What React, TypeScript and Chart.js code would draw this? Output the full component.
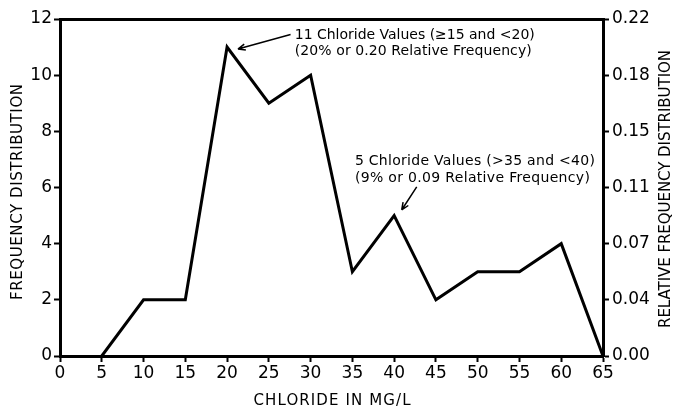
import React, { useEffect, useRef } from "react";
import { Chart, registerables } from "chart.js";

Chart.register(...registerables);

// ---- data ----
const chloride = [5, 10, 15, 20, 25, 30, 35, 40, 45, 50, 55, 60, 65];
const frequency = [0, 2, 2, 11, 9, 10, 3, 5, 2, 3, 3, 4, 0];
const rightTickLabels = ["0.00", "0.04", "0.07", "0.11", "0.15", "0.18", "0.22"];
const xTitle = "CHLORIDE IN MG/L";
const yLeftTitle = "FREQUENCY DISTRIBUTION";
const yRightTitle = "RELATIVE FREQUENCY DISTRIBUTION";
const note1Lines = ["11 Chloride Values (\u226515 and <20)", "(20% or 0.20 Relative Frequency)"];
const note2Lines = ["5 Chloride Values (>35 and <40)", "(9% or 0.09 Relative Frequency)"];

// annotation placement (data units)
const note1Pos = { x: 28.1, y1: 11.4, y2: 10.85, arrowFrom: [27.6, 11.45], arrowTo: [21.3, 10.93] };
const note2Pos = { x: 35.3, y1: 6.94, y2: 6.34, arrowFrom: [42.7, 6.02], arrowTo: [40.9, 5.2] };

const FONT = "'DejaVu Sans', sans-serif";

function fitText(ctx: CanvasRenderingContext2D, text: string, x: number, y: number, width: number) {
  (ctx as any).letterSpacing = "0px";
  const w = ctx.measureText(text).width;
  const ls = (width - w) / Math.max(1, text.length - 1);
  (ctx as any).letterSpacing = ls + "px";
  ctx.textAlign = "left";
  ctx.textBaseline = "middle";
  ctx.fillText(text, x, y);
  (ctx as any).letterSpacing = "0px";
}

function arrow(ctx: CanvasRenderingContext2D, x1: number, y1: number, x2: number, y2: number) {
  ctx.beginPath();
  ctx.moveTo(x1, y1);
  ctx.lineTo(x2, y2);
  const a = Math.atan2(y2 - y1, x2 - x1);
  const L = 8;
  ctx.moveTo(x2, y2);
  ctx.lineTo(x2 - L * Math.cos(a - 0.4), y2 - L * Math.sin(a - 0.4));
  ctx.moveTo(x2, y2);
  ctx.lineTo(x2 - L * Math.cos(a + 0.4), y2 - L * Math.sin(a + 0.4));
  ctx.stroke();
}

const textPlugin = {
  id: "texts",
  afterDraw(chart: any) {
    const ctx: CanvasRenderingContext2D = chart.ctx;
    const xs = chart.scales.x;
    const ys = chart.scales.y;
    const ca = chart.chartArea;
    ctx.save();
    ctx.fillStyle = "#000";
    ctx.strokeStyle = "#000";
    ctx.lineWidth = 1.5;

    // axis titles
    ctx.font = `15px ${FONT}`;
    const cx = (ca.left + ca.right) / 2;
    fitText(ctx, xTitle, cx - 78, 401, 157);

    ctx.save();
    ctx.translate(18, 192);
    ctx.rotate(-Math.PI / 2);
    fitText(ctx, yLeftTitle, -108, 0, 216);
    ctx.restore();

    ctx.save();
    ctx.translate(666, 189);
    ctx.rotate(-Math.PI / 2);
    fitText(ctx, yRightTitle, -139, 0, 278);
    ctx.restore();

    // annotations
    ctx.font = `14px ${FONT}`;
    const notes = [
      { lines: note1Lines, pos: note1Pos, widths: [240, 237] },
      { lines: note2Lines, pos: note2Pos, widths: [240, 235] },
    ];
    for (const n of notes) {
      const px = xs.getPixelForValue(n.pos.x);
      fitText(ctx, n.lines[0], px, ys.getPixelForValue(n.pos.y1), n.widths[0]);
      fitText(ctx, n.lines[1], px, ys.getPixelForValue(n.pos.y2), n.widths[1]);
      arrow(
        ctx,
        xs.getPixelForValue(n.pos.arrowFrom[0]),
        ys.getPixelForValue(n.pos.arrowFrom[1]),
        xs.getPixelForValue(n.pos.arrowTo[0]),
        ys.getPixelForValue(n.pos.arrowTo[1])
      );
    }
    ctx.restore();
  },
};

export default function App() {
  const ref = useRef<HTMLCanvasElement | null>(null);
  useEffect(() => {
    if (!ref.current) return;
    const tickFont = { family: FONT, size: 17 };
    const chart = new Chart(ref.current, {
      type: "line",
      data: {
        datasets: [
          {
            data: chloride.map((c, i) => ({ x: c, y: frequency[i] })),
            borderColor: "#000",
            borderWidth: 3,
            pointRadius: 0,
            tension: 0,
            fill: false,
            borderJoinStyle: "miter",
          },
        ],
      },
      options: {
        animation: false,
        responsive: false,
        layout: { padding: 0 },
        plugins: { legend: { display: false }, tooltip: { enabled: false } },
        scales: {
          x: {
            type: "linear",
            position: "bottom",
            min: 0,
            max: 65,
            ticks: { stepSize: 5, color: "#000", font: tickFont, padding: 1, maxRotation: 0, autoSkip: false },
            grid: { drawOnChartArea: false, drawTicks: true, tickLength: 6, tickColor: "#000", tickWidth: 2 },
            border: { display: true, color: "#000", width: 3 },
            afterFit: (s: any) => { s.height = 52; },
          },
          xTop: {
            type: "linear",
            position: "top",
            min: 0,
            max: 65,
            ticks: { display: false },
            grid: { drawOnChartArea: false, drawTicks: false },
            border: { display: true, color: "#000", width: 3 },
            afterFit: (s: any) => { s.height = 19; },
          },
          y: {
            type: "linear",
            position: "left",
            min: 0,
            max: 12,
            ticks: { stepSize: 2, color: "#000", font: tickFont, padding: 2 },
            grid: { drawOnChartArea: false, drawTicks: true, tickLength: 6, tickColor: "#000", tickWidth: 2 },
            border: { display: true, color: "#000", width: 3 },
            afterFit: (s: any) => { s.width = 60; },
          },
          yRight: {
            type: "linear",
            position: "right",
            min: 0,
            max: 12,
            ticks: {
              stepSize: 2,
              color: "#000",
              font: tickFont,
              padding: 3,
              callback: (_v: any, i: number) => rightTickLabels[i],
            },
            grid: { drawOnChartArea: false, drawTicks: true, tickLength: 6, tickColor: "#000", tickWidth: 2 },
            border: { display: true, color: "#000", width: 3 },
            afterFit: (s: any) => { s.width = 70; },
          },
        },
      } as any,
      plugins: [textPlugin],
    });
    return () => chart.destroy();
  }, []);
  return (
    <div style={{ position: "fixed", left: 0, top: 0, width: 673, height: 408, background: "#fff" }}>
      <canvas ref={ref} width={673} height={408} style={{ display: "block" }} />
    </div>
  );
}
